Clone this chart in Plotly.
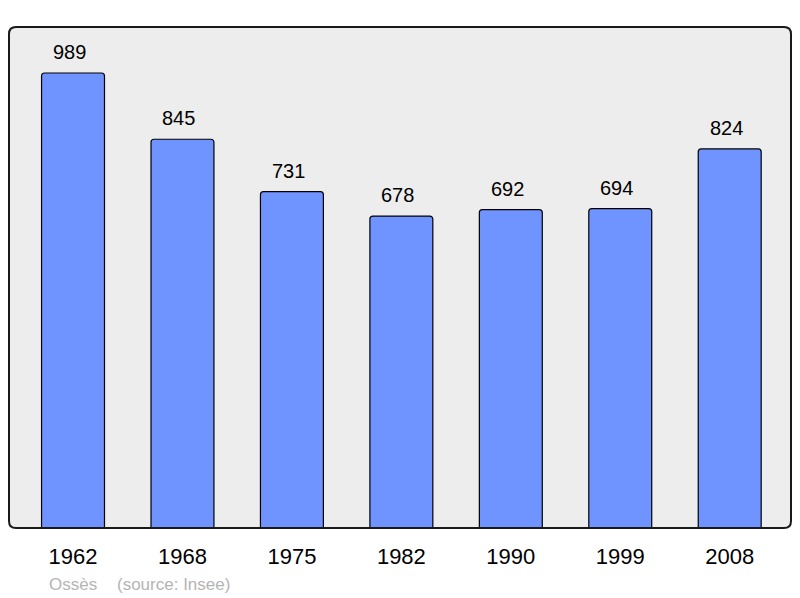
import plotly.graph_objects as go

years = ["1962", "1968", "1975", "1982", "1990", "1999", "2008"]
population = [989, 845, 731, 678, 692, 694, 824]
commune = "Ossès"
source = "(source: Insee)"

# page has an 8px body margin; place the plot so it lands at 9..791 x 27..528 in the window
OFF = 8
PX0, PX1, PY0, PY1 = 9, 791, 27, 528
W, H = 792, 590
L, T = PX0 - OFF, PY0 - OFF
pw, ph = PX1 - PX0, PY1 - PY0
R, B = W - L - pw, H - T - ph

FONT = "Liberation Sans, Arial"

fig = go.Figure()
fig.add_trace(go.Bar(
    x=list(range(len(years))), y=population,
    width=0.575,
    marker=dict(color="#7094ff", line=dict(color="#000000", width=1.2), cornerradius=3),
    hoverinfo="skip",
))

for i, v in enumerate(population):
    fig.add_annotation(x=i, y=v, text=str(v), showarrow=False, xref="x", yref="y",
                       yanchor="bottom", yshift=8, xshift=-3.5,
                       font=dict(family=FONT, size=20, color="#000000"))

# rounded frame
r = 7
rx, ry = r / pw, r / ph
path = (f"M {rx} 0 L {1-rx} 0 Q 1 0 1 {ry} L 1 {1-ry} Q 1 1 {1-rx} 1 "
        f"L {rx} 1 Q 0 1 0 {1-ry} L 0 {ry} Q 0 0 {rx} 0 Z")
fig.add_shape(type="path", path=path, xref="paper", yref="paper",
              line=dict(color="#1a1a1a", width=2), layer="above")

fy = (PY1 - 584) / ph
fig.add_annotation(x=(47 - PX0) / pw, y=fy, xref="paper", yref="paper", text=commune,
                   showarrow=False, xanchor="left", yanchor="middle",
                   font=dict(family=FONT, size=17, color="#b4b4b4"))
fig.add_annotation(x=(115 - PX0) / pw, y=fy, xref="paper", yref="paper", text=source,
                   showarrow=False, xanchor="left", yanchor="middle",
                   font=dict(family=FONT, size=17, color="#b4b4b4"))

fig.update_layout(
    width=W, height=H,
    margin=dict(l=L, r=R, t=T, b=B, pad=0),
    paper_bgcolor="#ffffff", plot_bgcolor="#ededed",
    showlegend=False,
    xaxis=dict(range=[-0.585, 6.56], tickmode="array", tickvals=list(range(len(years))), ticktext=years,
               ticks="outside", ticklen=9, tickcolor="rgba(0,0,0,0)", showgrid=False, zeroline=False,
               showline=False, tickfont=dict(family=FONT, size=22, color="#000000"),
               fixedrange=True),
    yaxis=dict(range=[0, 1089], showticklabels=False, showgrid=False, zeroline=False, ticks="",
               fixedrange=True),
)

fig.write_html("out.html")
